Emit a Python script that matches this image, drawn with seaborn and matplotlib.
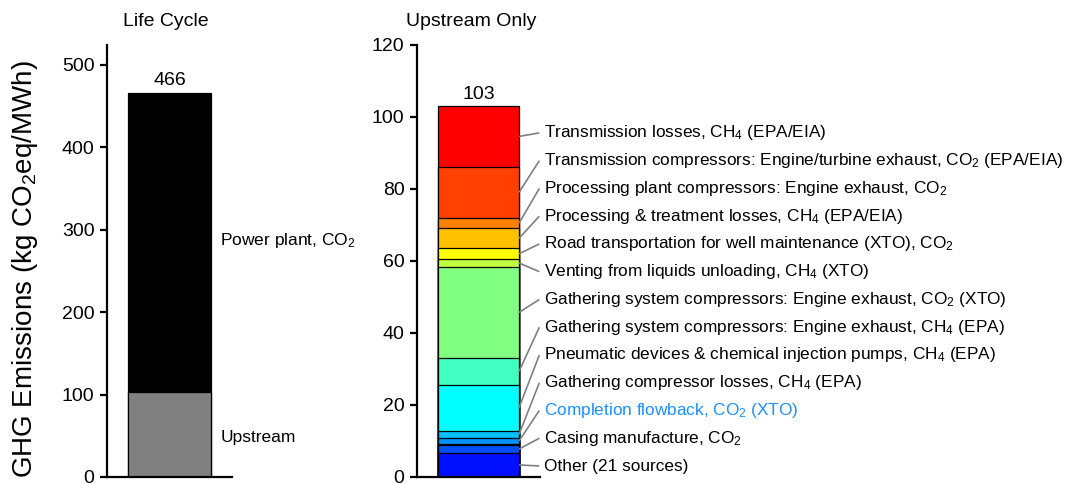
import numpy as np
import matplotlib
matplotlib.use("Agg")
import matplotlib.pyplot as plt
import seaborn as sns

# Life-cycle totals (kg CO2eq/MWh), stacked bottom to top
lifecycle_parts = ["Upstream", "Power plant, CO$_\\mathregular{2}$"]
lifecycle_values = [103, 363]
lifecycle_colors = ["#808080", "#000000"]

# Upstream contributions, stacked bottom to top
upstream_sources = [
    "Other (21 sources)",
    "Casing manufacture, CO$_\\mathregular{2}$",
    "",
    "Completion flowback, CO$_\\mathregular{2}$ (XTO)",
    "Gathering compressor losses, CH$_\\mathregular{4}$ (EPA)",
    "Pneumatic devices & chemical injection pumps, CH$_\\mathregular{4}$ (EPA)",
    "Gathering system compressors: Engine exhaust, CH$_\\mathregular{4}$ (EPA)",
    "Gathering system compressors: Engine exhaust, CO$_\\mathregular{2}$ (XTO)",
    "Venting from liquids unloading, CH$_\\mathregular{4}$ (XTO)",
    "Road transportation for well maintenance (XTO), CO$_\\mathregular{2}$",
    "Processing & treatment losses, CH$_\\mathregular{4}$ (EPA/EIA)",
    "Processing plant compressors: Engine exhaust, CO$_\\mathregular{2}$",
    "Transmission compressors: Engine/turbine exhaust, CO$_\\mathregular{2}$ (EPA/EIA)",
    "Transmission losses, CH$_\\mathregular{4}$ (EPA/EIA)",
]
upstream_values = [6.7, 2.1, 0.4, 1.6, 2.0, 12.8, 7.4, 25.4, 2.1, 3.0, 5.6, 2.8, 14.3, 16.8]
upstream_colors = ["#0010ff", "#0050ff", "#0060e0", "#0090ff", "#00c0ff", "#00ffff",
                   "#40ffc0", "#80ff80", "#c0ff40", "#ffff00", "#ffc000", "#ff8000",
                   "#ff4000", "#ff0000"]
highlight_source = "Completion flowback, CO$_\\mathregular{2}$ (XTO)"

sns.set_theme(style="ticks")
plt.rcParams["font.family"] = ["Liberation Sans", "DejaVu Sans"]
plt.rcParams["mathtext.fontset"] = "custom"
plt.rcParams["mathtext.rm"] = "Liberation Sans"
plt.rcParams["mathtext.it"] = "Liberation Sans:italic"
plt.rcParams["mathtext.bf"] = "Liberation Sans:bold"
plt.rcParams["text.color"] = "black"
plt.rcParams["axes.labelcolor"] = "black"
plt.rcParams["ytick.color"] = "black"
plt.rcParams["xtick.color"] = "black"

fig = plt.figure(figsize=(10.69, 4.84), dpi=100)
ax_l = fig.add_axes([0.1001, 0.0145, 0.117, 0.8926])
ax_r = fig.add_axes([0.390, 0.0145, 0.115, 0.8926])


def stacked_bar(ax, name, values, colors):
    """Draw a stacked bar as overlapping cumulative bars, tallest first."""
    tops = np.cumsum(values)
    for top, col in reversed(list(zip(tops, colors))):
        sns.barplot(x=[name], y=[top], color=col, saturation=1, width=0.8,
                    edgecolor="black", linewidth=0.9, errorbar=None, ax=ax)
    return tops


def style_axis(ax, ymax, step):
    ax.set_xlim(-0.605, 0.605)
    ax.set_ylim(0, ymax)
    ax.set_yticks(np.arange(0, ymax + 0.1, step))
    ax.set_xticks([])
    ax.set_xlabel("")
    ax.set_ylabel("")
    for side in ("top", "right"):
        ax.spines[side].set_visible(False)
    for side in ("left", "bottom"):
        ax.spines[side].set_linewidth(1.6)
        ax.spines[side].set_color("black")
    ax.tick_params(axis="y", length=5, width=1.6, labelsize=14, pad=4,
                   colors="black", labelcolor="black")
    ax.set_facecolor("none")


# Life-cycle panel
tops_l = stacked_bar(ax_l, "Life Cycle", lifecycle_values, lifecycle_colors)
style_axis(ax_l, 524, 100)
ax_l.text(0, tops_l[-1] + 4, f"{tops_l[-1]:.0f}", ha="center", va="bottom", fontsize=14)
ax_l.text(0.49, 287, lifecycle_parts[1], ha="left", va="center", fontsize=12.5, clip_on=False)
ax_l.text(0.49, 47.5, lifecycle_parts[0], ha="left", va="center", fontsize=12.5, clip_on=False)
ax_l.set_ylabel("GHG Emissions (kg CO$_\\mathregular{2}$eq/MWh)", fontsize=20)
ax_l.yaxis.set_label_coords(-0.535, 0.482)

# Upstream-only panel
tops_r = stacked_bar(ax_r, "Upstream Only", upstream_values, upstream_colors)
style_axis(ax_r, 120, 20)
ax_r.text(0, tops_r[-1] + 0.8, f"{tops_r[-1]:.0f}", ha="center", va="bottom", fontsize=14)

bottoms = tops_r - np.array(upstream_values)
mids = bottoms + np.array(upstream_values) / 2
label_y = 3.05
for name, mid in zip(upstream_sources, mids):
    if not name:
        continue
    ax_r.plot([0.4, 0.6], [mid, label_y], color="#808080", lw=1.2, clip_on=False,
              solid_capstyle="butt")
    ax_r.text(0.65, label_y, name, ha="left", va="center", fontsize=12.4,
              color="#1e8fff" if name == highlight_source else "black", clip_on=False)
    label_y += 7.71

fig.text(0.1151, 0.955, "Life Cycle", ha="left", va="center", fontsize=14)
fig.text(0.3798, 0.955, "Upstream Only", ha="left", va="center", fontsize=14)

fig.savefig("out.png", dpi=100)
